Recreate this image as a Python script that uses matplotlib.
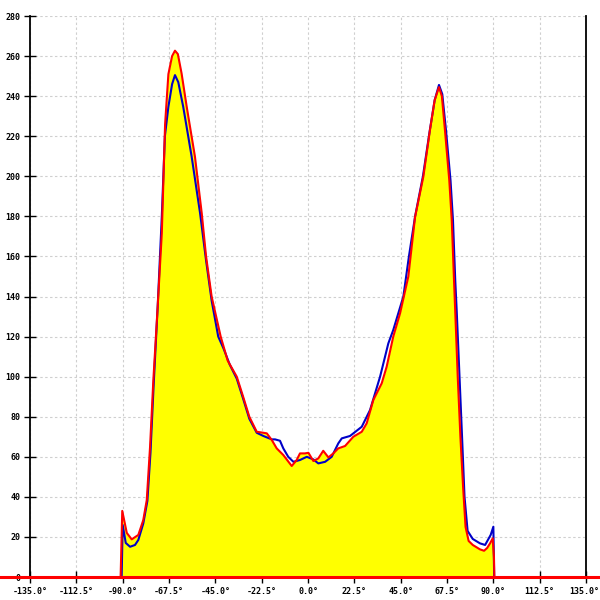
import matplotlib
matplotlib.use("Agg")
import matplotlib.pyplot as plt
import matplotlib.transforms as mtransforms

# red series (angle in degrees, count)
red_x = [-91, -90.2, -88, -85.6, -82.4, -80, -78.3, -76.7, -75.1, -73, -71, -69.4,
         -67.8, -66, -64.6, -63.2, -61.4, -58.9, -54.9, -51.6, -49.5, -46.8, -42.4,
         -39, -34.6, -31.5, -28.5, -24.9, -21.7, -20, -17.6, -15.2, -12, -7.9, -5.5,
         -3.9, -1.5, 0.2, 2.6, 5, 7.4, 9.9, 12.3, 14.7, 18, 22, 26.1, 28.5, 31.7, 35.8,
         38.2, 41.4, 44.7, 48.7, 52, 56, 59.2, 61.5, 63.6, 65, 66.5, 68.6, 69.8, 70.9,
         71.9, 72.7, 74, 75.3, 76.5, 78, 80, 83.5, 85.5, 87, 88.4, 89.7, 90.3, 90.5]
red_y = [0, 33, 22, 18.8, 21, 28.4, 38.4, 65, 98.3, 135, 171.5, 226,
         251, 260, 262.7, 261, 251.4, 234.7, 209.8, 181.5, 160, 140, 120,
         108, 100, 90, 80, 72.5, 72, 71.7, 68.4, 64.2, 60.9, 55.4, 58.4,
         61.7, 61.7, 62, 57.9, 59.2, 63, 59.7, 61.7, 64.2, 65.4, 70, 72.5, 76.7, 88.3, 96.7,
         105, 120, 131.6, 149.9, 179.8, 199.8, 223, 238, 244.5, 240, 223, 198, 178, 148,
         121.6, 100, 70, 45, 25, 18, 16, 13.8, 13.1, 14.5, 16.8, 19.3, 10, 0]

# blue series
blue_x = [-90.5, -90, -88.5, -86.4, -84, -82.4, -80, -78, -76.5, -75, -73, -71, -69.5,
          -67.8, -66, -64.6, -63, -60.6, -56.5, -52.4, -49.5, -46.8, -43.6, -41, -38,
          -34.6, -31.5, -28.5, -24.9, -21.7, -17.6, -16, -13.6, -12, -9.6, -7.1, -3.9,
          -0.6, 2.6, 5, 8.3, 11.5, 14.7, 16.4, 20.4, 26.1, 30.1, 35, 39, 41.4, 46.3, 49,
          52, 55.8, 59, 61.5, 63.6, 65.2, 67, 69.2, 70.4, 71.5, 72.2, 73.5, 74.8, 76,
          77.5, 80, 83.5, 86, 88.7, 90, 90.4]
blue_y = [0, 26, 17, 15.1, 16, 18.5, 26.7, 38, 62, 95, 135, 180, 220,
          234.7, 246, 250.5, 247, 234.7, 209.8, 181.5, 158, 138, 120, 114, 106,
          99, 89, 79, 72, 70.4, 68.7, 68.7, 68, 64.2, 60, 57.5, 58.4,
          60, 58.7, 56.7, 57.5, 60, 66.7, 69.2, 70.4, 75, 83.3, 100, 116.6, 123.3, 140, 160,
          180, 200, 222, 238, 245.6, 241, 223, 198, 178, 148, 133, 101.7, 70, 40,
          23, 19, 16.8, 16, 21, 25.1, 0]

x_ticks = [-135.0, -112.5, -90.0, -67.5, -45.0, -22.5, 0.0, 22.5, 45.0, 67.5, 90.0, 112.5, 135.0]
y_ticks = list(range(0, 281, 20))

fig = plt.figure(figsize=(6, 6), dpi=100)
ax = fig.add_axes([0.05, 0.0383, 0.9267, 0.935])

ax.fill_between(red_x, red_y, 0, color="#ffff00", linewidth=0, zorder=1)
ax.plot(blue_x, blue_y, color="#0000c8", linewidth=1.5, zorder=3)
ax.plot(red_x, red_y, color="#ff0000", linewidth=1.5, zorder=4)

ax.set_xlim(-135, 135)
ax.set_ylim(0, 280)

ax.set_xticks(x_ticks)
ax.set_xticklabels(["%.1f°" % t for t in x_ticks])
ax.set_yticks(y_ticks)
ax.set_yticklabels([str(t) for t in y_ticks])

ax.grid(True, color="#cfcfcf", linestyle=(0, (2.2, 2.2)), linewidth=0.8, zorder=0)
ax.set_axisbelow(True)

for side in ["top", "bottom"]:
    ax.spines[side].set_visible(False)
ax.spines["left"].set_linewidth(1.3)
ax.spines["right"].set_linewidth(1.3)
ax.spines["left"].set_zorder(5)

# red zero line across the full width
ax.axhline(0, xmin=-0.06, xmax=1.03, color="#ff0000", linewidth=2.2, clip_on=False, zorder=6)

ax.tick_params(axis="both", direction="inout", length=8, width=1.0, color="black",
               labelsize=6)
ax.tick_params(axis="y", pad=3)
ax.tick_params(axis="x", pad=3)
for lab in ax.get_xticklabels() + ax.get_yticklabels():
    lab.set_family("DejaVu Sans Mono")
    lab.set_weight("bold")
# keep the last label inside the canvas, ending at the right edge
last = ax.get_xticklabels()[-1]
last.set_horizontalalignment("right")
last.set_transform(last.get_transform() + mtransforms.ScaledTranslation(0.13, 0, fig.dpi_scale_trans))

fig.savefig("out.png", dpi=100)
